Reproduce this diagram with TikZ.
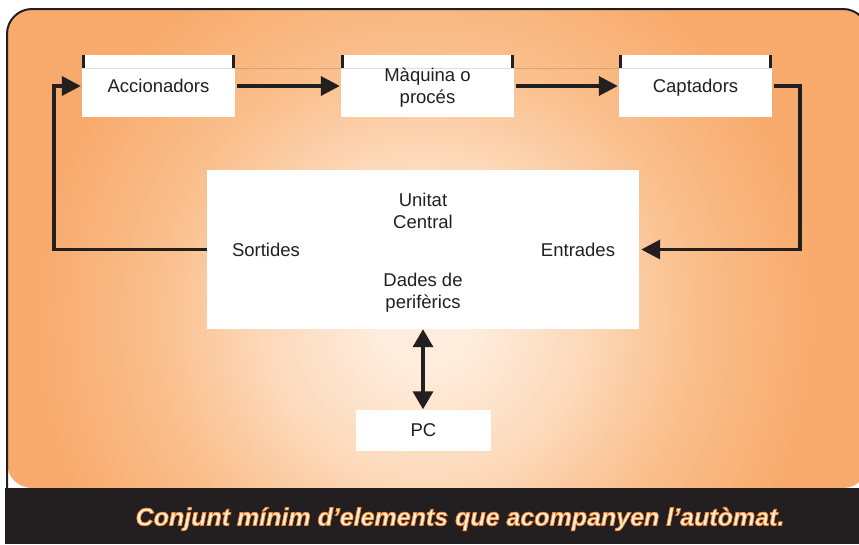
\documentclass[tikz,border=0pt]{standalone}
\usepackage{fontspec}
\setmainfont{Liberation Sans}
\newfontfamily\capfam{Liberation Sans}[BoldItalicFeatures={FakeBold=3}]
\usetikzlibrary{arrows.meta,calc}
\definecolor{ink}{RGB}{35,31,32}
\definecolor{bgin}{RGB}{254,236,220}
\definecolor{bgq}{RGB}{253,218,188}
\definecolor{bgmid}{RGB}{250,192,142}
\definecolor{bgout}{RGB}{248,170,108}
\pgfdeclareradialshading{bgshade}{\pgfpoint{0bp}{0bp}}{color(0bp)=(bgin); color(3bp)=(bgin); color(9.5bp)=(bgq); color(16bp)=(bgmid); color(24bp)=(bgout); color(50bp)=(bgout)}
\tikzset{
  box/.style={fill=white, inner sep=0pt, text=ink, align=center,
    font=\fontsize{18.5}{22}\selectfont},
  lbl/.style={inner sep=0pt, text=ink, align=center,
    font=\fontsize{18.5}{22}\selectfont},
  one/.style={text height=13.25pt, text depth=0pt},
  two/.style={text height=35.25pt, text depth=0pt},
  conn/.style={draw=ink, line width=3.6pt},
  arr/.style={conn, -{Triangle[length=19pt,width=19pt]}},
  darr/.style={conn, {Triangle[length=18pt,width=20pt]}-{Triangle[length=18pt,width=20pt]}},
  tick/.style={draw=ink, line width=3pt}
}
\begin{document}
\begin{tikzpicture}[x=1pt,y=-1pt]
\useasboundingbox (0,0) rectangle (859,544);
\clip (0,0) rectangle (859,544);
% frame with gradient
\begin{scope}
  \clip[rounded corners=25pt] (7,488) -- (7,9) -- (868,9) -- (868,488) -- cycle;
  \fill[bgout] (0,0) rectangle (859,544);
  \shade[shading=bgshade] (425,320) circle (410);
\end{scope}
\draw[draw=ink, line width=2pt, rounded corners=25pt] (7,488) -- (7,9) -- (868,9) -- (868,488);
% caption bar
\fill[ink] (5,488) rectangle (859,544);
\node[inner sep=0pt, font=\capfam\fontsize{25}{30}\selectfont\bfseries\itshape] (cap0) at (460,519) {\special{pdf:bcolor [1 0.93 0.85] [0.96 0.52 0.16]}Conjunt mínim d’elements que acompanyen l’autòmat.\special{pdf:ecolor}};
% boxes
\node[box, one, minimum width=153pt, minimum height=62pt] (acc) at (158.5,86) {Accionadors};
\node[box, two, minimum width=173pt, minimum height=62pt] (maq) at (427.5,86) {Màquina o\\procés};
\node[box, one, minimum width=153pt, minimum height=62pt] (cap) at (695.5,86) {Captadors};
\node[box, minimum width=432pt, minimum height=159pt] (cu) at (423,249.5) {};
\node[box, one, minimum width=135pt, minimum height=41pt] (pc) at (423.5,430) {PC};
% faint line
\draw[black, opacity=0.13, line width=0.6pt] ($(acc.north west)+(0,13)$) -- ($(cap.north east)+(0,13)$);
% ticks
\foreach \b in {acc,maq,cap}{
  \draw[tick] ($(\b.north west)+(1.5,0)$) -- ++(0,13);
  \draw[tick] ($(\b.north east)+(-1.5,0)$) -- ++(0,13);
}
% texts in central unit
\node[lbl, two] (t1) at (423,211) {Unitat\\Central};
\node[lbl, one] (t2) at (266,250) {Sortides};
\node[lbl, one] (t3) at (578,250) {Entrades};
\node[lbl, two] (t4) at (423,290.4) {Dades de\\perifèrics};
% connectors
\coordinate (r1) at (800,86);
\coordinate (l1) at (54,249.5);
\draw[arr, shorten <=2pt, shorten >=1pt] (acc.east) -- (maq.west);
\draw[arr, shorten <=2pt, shorten >=1pt] (maq.east) -- (cap.west);
\draw[arr, shorten <=2pt, shorten >=2pt] (cap.east) -- (r1) |- (cu.east);
\draw[arr, shorten >=1pt] (cu.west) -- (l1) |- (acc.west);
\draw[darr] (cu.south) -- (cu.south |- pc.north);
\end{tikzpicture}
\end{document}
